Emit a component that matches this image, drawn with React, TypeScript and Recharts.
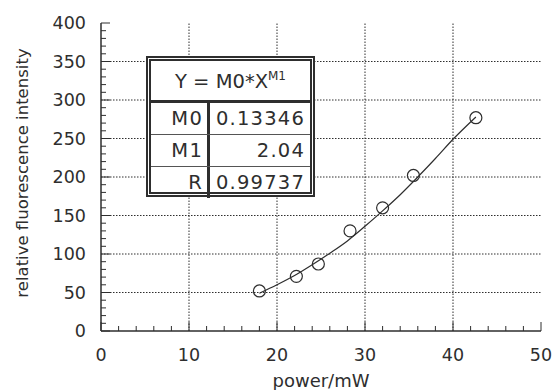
import { ComposedChart, XAxis, YAxis, Line, Scatter, ReferenceLine } from 'recharts'

// measured points (power in mW, relative fluorescence intensity)
const powerValues = [18.0, 22.2, 24.7, 28.3, 32.0, 35.5, 42.6]
const intensityValues = [52, 71, 87, 130, 160, 202, 277]

// fitted curve Y = M0*X^M1
const curvePower = [18, 20, 22, 24, 26, 28, 30, 32, 34, 36, 38, 40, 42.6]
const curveIntensity = [49, 60, 72, 86, 101, 117, 136, 156, 177, 200, 224, 249, 278]

const xMajorTicks = [0, 10, 20, 30, 40, 50]
const yMajorTicks = [0, 50, 100, 150, 200, 250, 300, 350, 400]
const xAllTicks = [0, 2, 4, 6, 8, 10, 12, 14, 16, 18, 20, 22, 24, 26, 28, 30, 32, 34, 36, 38, 40, 42, 44, 46, 48, 50]
const yAllTicks = [
  0, 10, 20, 30, 40, 50, 60, 70, 80, 90, 100, 110, 120, 130, 140, 150, 160, 170, 180, 190, 200,
  210, 220, 230, 240, 250, 260, 270, 280, 290, 300, 310, 320, 330, 340, 350, 360, 370, 380, 390, 400,
]
const xGridLines = [10, 20, 30, 40]
const yGridLines = [50, 100, 150, 200, 250, 300, 350]

const fitTitle = 'Y = M0*X'
const fitTitleSup = 'M1'
const fitNames = ['M0', 'M1', 'R']
const fitValues = ['0.13346', '2.04', '0.99737']

const points = powerValues.map((x, i) => ({ x, y: intensityValues[i] }))
const curve = curvePower.map((x, i) => ({ x, y: curveIntensity[i] }))

const INK = '#2e2e2e'
const FONT = '"DejaVu Sans", Verdana, sans-serif'

function XTick({ x, y, payload, side }: any) {
  const v = payload.value
  const major = xMajorTicks.includes(v)
  const len = major ? 9 : 5
  const dir = side === 'bottom' ? -1 : 1
  return (
    <g>
      <line x1={x} y1={y} x2={x} y2={y + dir * len} stroke={INK} strokeWidth={1} />
      {side === 'bottom' && major && (
        <text x={x} y={y + 30} textAnchor="middle" fontSize={17.5} fill={INK} fontFamily={FONT}>
          {v}
        </text>
      )}
    </g>
  )
}

function YTick({ x, y, payload, side }: any) {
  const v = payload.value
  const major = yMajorTicks.includes(v)
  const len = major ? 9 : 5
  const dir = side === 'left' ? 1 : -1
  return (
    <g>
      <line x1={x} y1={y} x2={x + dir * len} y2={y} stroke={INK} strokeWidth={1} />
      {side === 'left' && major && (
        <text x={x - 15} y={y + 6} textAnchor="end" fontSize={17.5} fill={INK} fontFamily={FONT}>
          {v}
        </text>
      )}
    </g>
  )
}

function XTitle(props: any) {
  const vb = props.viewBox
  return (
    <text x={vb.x + vb.width / 2} y={vb.y + 56} textAnchor="middle" fontSize={18} fill={INK} fontFamily={FONT}>
      power/mW
    </text>
  )
}

function YTitle(props: any) {
  const vb = props.viewBox
  const cx = vb.x + 22
  const cy = vb.y + vb.height / 2 - 4
  return (
    <text
      x={cx}
      y={cy}
      transform={`rotate(-90 ${cx} ${cy})`}
      textAnchor="middle"
      dominantBaseline="central"
      fontSize={16.5}
      fill={INK}
      fontFamily={FONT}
    >
      relative fluorescence intensity
    </text>
  )
}

function FitTable() {
  return (
    <div
      style={{
        position: 'absolute',
        left: 146,
        top: 56,
        width: 169,
        height: 141,
        boxSizing: 'border-box',
        border: `5px double ${INK}`,
        background: '#fff',
        fontFamily: FONT,
        color: INK,
      }}
    >
      <div
        style={{
          height: 42,
          boxSizing: 'border-box',
          borderBottom: `3px solid ${INK}`,
          display: 'flex',
          alignItems: 'center',
          justifyContent: 'center',
          fontSize: 19.5,
        }}
      >
        <span>
          {fitTitle}
          <sup style={{ fontSize: 12 }}>{fitTitleSup}</sup>
        </span>
      </div>
      {fitNames.map((name, i) => (
        <div
          key={name}
          style={{
            display: 'flex',
            height: i === 2 ? 31 : 32,
            boxSizing: 'border-box',
            borderBottom: i < 2 ? '1px solid #555' : 'none',
            fontSize: 19.5,
            letterSpacing: 1.2,
            alignItems: 'center',
          }}
        >
          <div
            style={{
              width: 59,
              height: '100%',
              boxSizing: 'border-box',
              borderRight: `3px solid ${INK}`,
              paddingRight: 4,
              display: 'flex',
              alignItems: 'center',
              justifyContent: 'flex-end',
            }}
          >
            {name}
          </div>
          <div style={{ flex: 1, textAlign: 'right', paddingRight: 5 }}>{fitValues[i]}</div>
        </div>
      ))}
    </div>
  )
}

export default function App() {
  return (
    <div style={{ position: 'absolute', left: 0, top: 0, width: 555, height: 390, background: '#fff' }}>
      <ComposedChart width={555} height={390} margin={{ top: 23, right: 14, bottom: 0, left: 0 }}>
        {xGridLines.map((v) => (
          <ReferenceLine key={'gx' + v} x={v} stroke={INK} strokeDasharray="1.5 1.5" strokeWidth={1} />
        ))}
        {yGridLines.map((v) => (
          <ReferenceLine key={'gy' + v} y={v} stroke={INK} strokeDasharray="1.5 1.5" strokeWidth={1} />
        ))}
        <XAxis
          type="number"
          dataKey="x"
          domain={[0, 50]}
          ticks={xAllTicks}
          interval={0}
          tickSize={0}
          tickMargin={0}
          tickLine={false}
          height={59}
          axisLine={{ stroke: INK, strokeWidth: 1.5 }}
          tick={<XTick side="bottom" />}
          label={<XTitle />}
        />
        <XAxis
          xAxisId="top"
          orientation="top"
          type="number"
          domain={[0, 50]}
          ticks={xAllTicks}
          interval={0}
          tickSize={0}
          tickMargin={0}
          tickLine={false}
          height={0}
          axisLine={{ stroke: INK, strokeWidth: 1.5 }}
          tick={<XTick side="top" />}
        />
        <YAxis
          type="number"
          dataKey="y"
          domain={[0, 400]}
          ticks={yAllTicks}
          interval={0}
          tickSize={0}
          tickMargin={0}
          tickLine={false}
          width={101}
          axisLine={{ stroke: INK, strokeWidth: 1.5 }}
          tick={<YTick side="left" />}
          label={<YTitle />}
        />
        <YAxis
          yAxisId="right"
          orientation="right"
          type="number"
          domain={[0, 400]}
          ticks={yAllTicks}
          interval={0}
          tickSize={0}
          tickMargin={0}
          tickLine={false}
          width={0}
          axisLine={{ stroke: INK, strokeWidth: 1.5 }}
          tick={<YTick side="right" />}
        />
        <Line
          data={curve}
          dataKey="y"
          type="monotone"
          stroke={INK}
          strokeWidth={1.2}
          dot={false}
          isAnimationActive={false}
        />
        <Scatter
          data={points}
          dataKey="y"
          isAnimationActive={false}
          shape={(p: any) => <circle cx={p.cx} cy={p.cy} r={6} fill="none" stroke={INK} strokeWidth={1.2} />}
        />
      </ComposedChart>
      <FitTable />
    </div>
  )
}
